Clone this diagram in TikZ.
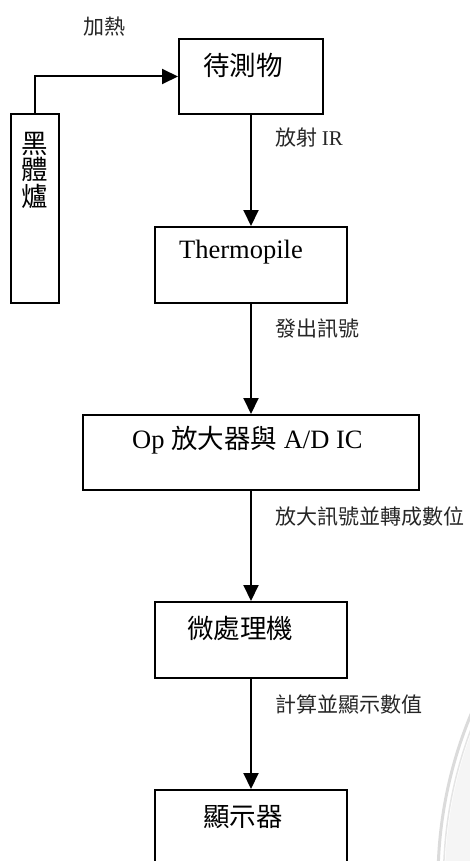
\documentclass[tikz,border=0pt]{standalone}
\usepackage{fontspec}
\setmainfont{Liberation Serif}
\newfontfamily\cjk{Noto Sans CJK TC}
\usetikzlibrary{arrows.meta}
\begin{document}
\begin{tikzpicture}[x=1pt,y=-1pt,
  box/.style={draw,line width=2pt,inner sep=0pt},
  bigtxt/.style={font=\fontsize{26.5}{26.5}\selectfont,inner sep=0pt},
  bigcjk/.style={font=\cjk\fontsize{26.5}{26.5}\selectfont,inner sep=0pt},
  lab/.style={font=\cjk\fontsize{21}{21}\selectfont,inner sep=0pt,anchor=west,text=black!85},
  flow/.style={line width=2pt,-{Triangle[length=16pt,width=15pt]}}]
\useasboundingbox (0,0) rectangle (469,861);
% faint watermark seal
\fill[gray!8] (869,880) circle (424);
\draw[gray!28,line width=3pt] (869,880) circle (431);
\draw[gray!20,line width=1.5pt] (869,880) circle (425.5);
% boxes
\node[box,minimum width=144pt,minimum height=75pt] (obj) at (251,76.5) {};
\node[box,minimum width=48pt,minimum height=189pt] (bb) at (35,208.5) {};
\node[box,minimum width=192pt,minimum height=76pt] (thermo) at (251,265) {};
\node[box,minimum width=336pt,minimum height=75pt] (op) at (251,452.5) {};
\node[box,minimum width=192pt,minimum height=76pt] (micro) at (251,640) {};
\node[box,minimum width=192pt,minimum height=150pt] (disp) at (251,865) {};
% box texts
\node[bigcjk] (objt) at (243,65) {待測物};
\node[bigcjk,align=center,font=\cjk\fontsize{26.5}{26.5}\selectfont] (bbt) at (35,170) {黑\\體\\爐};
\node[bigtxt] (thermot) at (241,252) {Thermopile};
\node[bigtxt,anchor=west] (opt) at (132,440) {Op {\cjk 放大器與} A/D IC};
\node[bigcjk,anchor=west] (microt) at (187,628) {微處理機};
\node[bigcjk,anchor=west] (dispt) at (203,817) {顯示器};
% connectors
\draw[flow] (bb.north) |- (obj.west);
\draw[flow] (obj.south) -- (thermo.north);
\draw[flow] (thermo.south) -- (op.north);
\draw[flow] (op.south) -- (micro.north);
\draw[flow] (micro.south) -- (disp.north);
% labels
\node[lab,anchor=center] (heat) at (104,27) {加熱};
\node[lab] (l1) at (275,138) {放射 {\rmfamily IR}};
\node[lab] (l2) at (275,328) {發出訊號};
\node[lab] (l3) at (275,517) {放大訊號並轉成數位};
\node[lab] (l4) at (275,705) {計算並顯示數值};
\end{tikzpicture}
\end{document}
